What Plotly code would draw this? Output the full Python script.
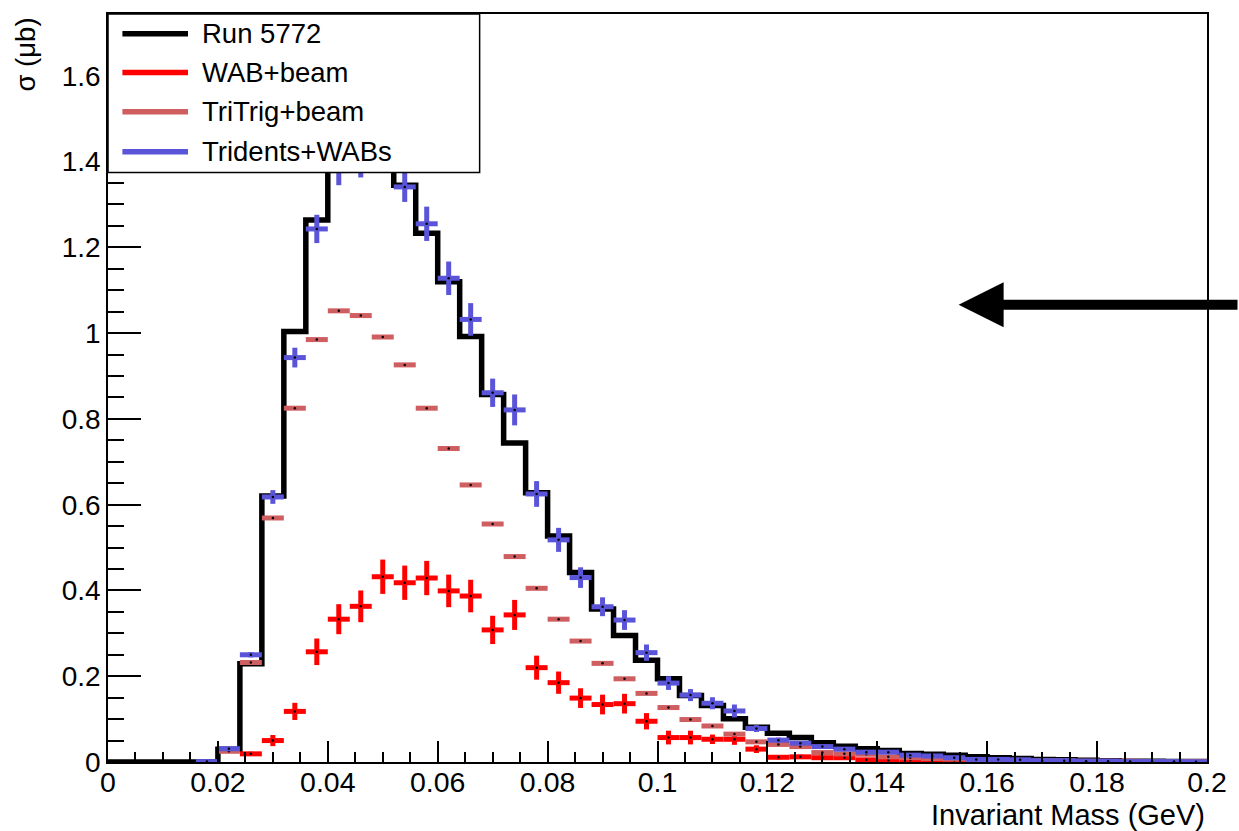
import plotly.graph_objects as go

# ---------------- data ----------------
bin_width = 0.004
n_bins = 50
bin_edges = [round(i * bin_width, 3) for i in range(n_bins + 1)]
bin_centers = [round((bin_edges[i] + bin_edges[i + 1]) / 2, 3) for i in range(n_bins)]

series_names = ["Run 5772", "WAB+beam", "TriTrig+beam", "Tridents+WABs"]
series_colors = ["#000000", "#ff0000", "#cf5e61", "#5954d8"]

run_5772 = [0, 0, 0, 0, 0, 0.030, 0.229, 0.620, 1.004, 1.264,
            1.45, 1.50, 1.46, 1.345, 1.233, 1.120, 0.992, 0.857, 0.744, 0.628,
            0.527, 0.442, 0.357, 0.295, 0.237, 0.194, 0.155, 0.132, 0.101, 0.081,
            0.067, 0.057, 0.045, 0.037, 0.031, 0.027, 0.020, 0.018, 0.016, 0.012,
            0.010, 0.008, 0.006, 0.005, 0.004, 0.003, 0.002, 0.002, 0.001, 0.001]

wab_beam = [None, None, None, None, None, None, 0.019, 0.050, 0.118, 0.257,
            0.333, 0.363, 0.432, 0.418, 0.429, 0.399, 0.387, 0.308, 0.343, 0.220,
            0.185, 0.149, 0.134, 0.136, 0.095, 0.057, 0.057, 0.053, 0.053, 0.030,
            0.011, 0.012, 0.010, 0.010, 0.005, 0.004, 0.004, 0.003, 0.003, 0.002,
            0.002, 0.002, None, None, None, None, None, None, None, None]
wab_beam_err = [0, 0, 0, 0, 0, 0, 0.005, 0.013, 0.020, 0.031,
                0.035, 0.037, 0.040, 0.040, 0.040, 0.038, 0.038, 0.033, 0.035, 0.028,
                0.026, 0.023, 0.023, 0.023, 0.019, 0.016, 0.016, 0.011, 0.013, 0.009,
                0.005, 0.005, 0.005, 0.005, 0.004, 0.004, 0.004, 0.003, 0.003, 0.003,
                0.003, 0.003, 0, 0, 0, 0, 0, 0, 0, 0]

tritrig_beam = [None, None, None, None, None, 0.025, 0.232, 0.569, 0.825, 0.985,
                1.052, 1.041, 0.991, 0.926, 0.825, 0.731, 0.646, 0.555, 0.479, 0.405,
                0.333, 0.282, 0.230, 0.194, 0.160, 0.127, 0.099, 0.084, 0.065, 0.047,
                0.041, 0.036, 0.022, 0.019, 0.018, 0.012, 0.010, 0.008, 0.007, 0.005,
                0.005, 0.004, 0.003, 0.003, 0.002, 0.002, 0.002, 0.001, 0.001, 0.001]
tritrig_beam_err = [0.003] * 50

tridents_wabs = [None, None, None, None, 0.001, 0.031, 0.250, 0.618, 0.943, 1.243,
                 1.379, 1.398, 1.420, 1.341, 1.255, 1.128, 1.032, 0.861, 0.821, 0.625,
                 0.518, 0.430, 0.362, 0.331, 0.255, 0.184, 0.156, 0.137, 0.119, 0.078,
                 0.051, 0.044, 0.036, 0.030, 0.023, 0.023, 0.016, 0.014, 0.010, 0.006,
                 0.006, 0.005, 0.003, 0.003, 0.002, 0.002, 0.001, 0.001, 0.001, 0.0005]
tridents_wabs_err = [0, 0, 0, 0, 0.002, 0.004, 0.006, 0.016, 0.023, 0.033,
                     0.034, 0.035, 0.035, 0.035, 0.040, 0.039, 0.038, 0.033, 0.036, 0.030,
                     0.028, 0.024, 0.022, 0.023, 0.019, 0.016, 0.014, 0.014, 0.015, 0.008,
                     0.006, 0.004, 0.004, 0.004, 0.004, 0.004, 0.004, 0.004, 0.004, 0.004,
                     0.004, 0.004, 0.004, 0.004, 0.004, 0.004, 0.004, 0.004, 0.004, 0.004]

x_tick_vals = [0, 0.02, 0.04, 0.06, 0.08, 0.1, 0.12, 0.14, 0.16, 0.18, 0.2]
x_tick_text = ["0", "0.02", "0.04", "0.06", "0.08", "0.1", "0.12", "0.14", "0.16", "0.18", "0.2"]
y_tick_vals = [0, 0.2, 0.4, 0.6, 0.8, 1.0, 1.2, 1.4, 1.6]
y_tick_text = ["0", "0.2", "0.4", "0.6", "0.8", "1", "1.2", "1.4", "1.6"]

x_title = "Invariant Mass (GeV)"
y_title = "σ (μb)"

# ---------------- figure ----------------
FONT = "Liberation Sans, Arial, Helvetica, sans-serif"
W, H = 1239, 831
ML, MR, MT, MB = 108, 25, 12, 69
plot_w = W - ML - MR
plot_h = H - MT - MB
y_top = plot_h / 430.0

fig = go.Figure()

# black step histogram
fig.add_trace(go.Scatter(
    x=bin_edges, y=run_5772 + [run_5772[-1]],
    mode="lines", line=dict(color=series_colors[0], width=5.5, shape="hv"),
    showlegend=False, hoverinfo="skip"))


def err_trace(vals, errs, color):
    return go.Scatter(
        x=bin_centers, y=vals, mode="markers",
        marker=dict(color="black", size=2.5, line=dict(width=0)),
        error_x=dict(type="constant", value=bin_width / 2, color=color, thickness=5, width=0),
        error_y=dict(type="data", array=errs, color=color, thickness=5, width=0),
        showlegend=False, cliponaxis=False)


fig.add_trace(err_trace(wab_beam, wab_beam_err, series_colors[1]))
fig.add_trace(err_trace(tritrig_beam, tritrig_beam_err, series_colors[2]))
fig.add_trace(err_trace(tridents_wabs, tridents_wabs_err, series_colors[3]))

shapes = []
annotations = []


def px_x(p):
    return (p - ML) / plot_w


def px_y(p):
    return (MT + plot_h - p) / plot_h


# manual ROOT-style legend
shapes.append(dict(type="rect", xref="paper", yref="paper",
                   x0=0, x1=px_x(482), y0=px_y(171), y1=1,
                   fillcolor="white", line=dict(color="black", width=1.5), layer="above"))
row_y = [31.7, 70.7, 110, 150]
for name, color, ry in zip(series_names, series_colors, row_y):
    shapes.append(dict(type="line", xref="paper", yref="paper",
                       x0=px_x(122.5), x1=px_x(188.5), y0=px_y(ry), y1=px_y(ry),
                       line=dict(color=color, width=5.5), layer="above"))
    annotations.append(dict(xref="paper", yref="paper", x=px_x(201), y=px_y(ry),
                            xanchor="left", yanchor="middle", text=name, showarrow=False,
                            font=dict(family=FONT, size=27.5, color="black")))

# axis titles
annotations.append(dict(xref="paper", yref="paper", x=1, y=px_y(815),
                        xanchor="right", yanchor="middle", text=x_title, showarrow=False,
                        font=dict(family=FONT, size=29, color="black")))
annotations.append(dict(xref="paper", yref="paper", x=px_x(25), y=px_y(14),
                        xanchor="center", yanchor="top", text=y_title, showarrow=False,
                        textangle=-90, font=dict(family=FONT, size=27.5, color="black")))

# arrow
annotations.append(dict(xref="x", yref="y", x=0.1548, y=1.066, ax=290, ay=0,
                        axref="pixel", ayref="pixel", text="", showarrow=True,
                        arrowhead=2, arrowwidth=10, arrowsize=0.9, arrowcolor="black"))

fig.update_layout(
    width=W, height=H,
    margin=dict(l=ML, r=MR, t=MT, b=MB, pad=0),
    paper_bgcolor="white", plot_bgcolor="white",
    showlegend=False,
    font=dict(family=FONT, color="black"),
    shapes=shapes, annotations=annotations,
)

fig.update_xaxes(
    range=[0, 0.2], showgrid=False, zeroline=False,
    showline=True, linecolor="black", linewidth=1.5, mirror=True,
    tickvals=x_tick_vals, ticktext=x_tick_text,
    ticks="inside", ticklen=21, tickwidth=1.5, tickcolor="black",
    ticklabelstandoff=-6,
    tickfont=dict(family=FONT, size=28.5, color="black"),
    minor=dict(ticks="inside", ticklen=10, dtick=0.005, tick0=0, tickwidth=1.5, tickcolor="black"),
)
fig.update_yaxes(
    range=[0, y_top], showgrid=False, zeroline=False,
    showline=True, linecolor="black", linewidth=1.5, mirror=True,
    tickvals=y_tick_vals, ticktext=y_tick_text,
    ticks="inside", ticklen=33, tickwidth=1.5, tickcolor="black",
    tickfont=dict(family=FONT, size=28, color="black"),
    minor=dict(ticks="inside", ticklen=16, dtick=0.05, tick0=0, tickwidth=1.5, tickcolor="black"),
)

fig.write_html("out.html")
